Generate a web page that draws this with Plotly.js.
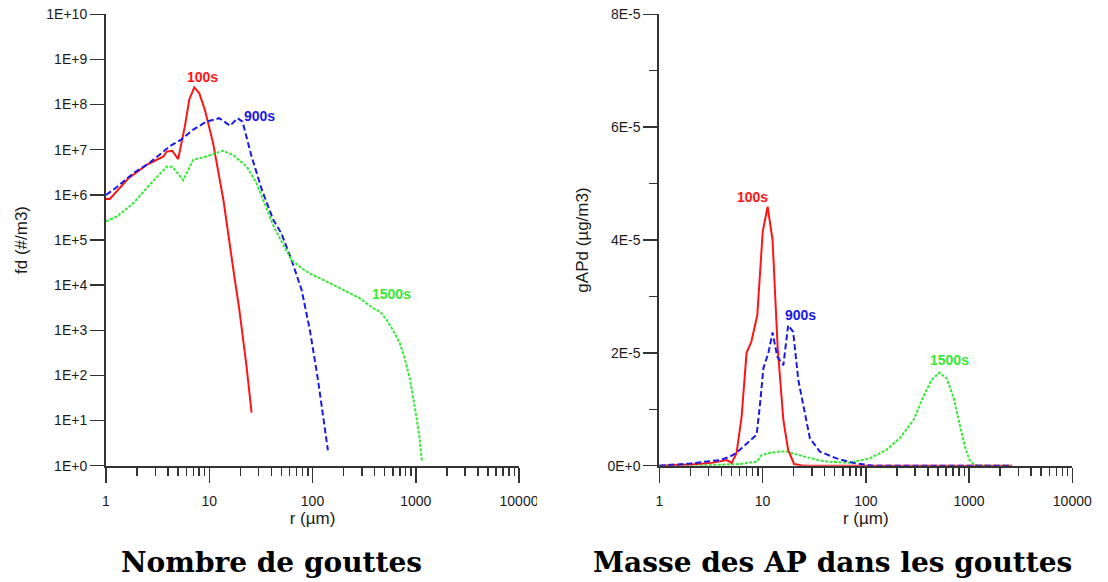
<!DOCTYPE html>
<html>
<head>
<meta charset="utf-8">
<script src="https://cdn.plot.ly/plotly-3.0.1.min.js"></script>
<style>
  html, body { margin: 0; padding: 0; background: #fff; }
  #chart { width: 1108px; height: 582px; }
</style>
</head>
<body>
<div id="chart"></div>
<script>
// ---- Droplet number distribution fd(r), #/m3 ----
const r100 = [1.0, 1.09, 1.64, 2.48, 3.6, 3.87, 4.38, 5.0, 5.83, 6.41, 7.16, 8.0, 9.08, 10.9, 13.7, 15.5, 17.7, 19.4, 23.0, 25.7];
const fd100 = [8.1e5, 8.1e5, 2.3e6, 4.6e6, 7.1e6, 9.1e6, 9.5e6, 6.2e6, 3.5e7, 1.3e8, 2.4e8, 1.8e8, 7.6e7, 1.4e7, 7.8e5, 1.0e5, 1.3e4, 3.3e3, 155, 15];

const r900 = [1.0, 1.18, 1.84, 2.66, 4.16, 5.4, 7.0, 9.4, 12.5, 15.9, 18.8, 21.0, 25.7, 32.3, 41.7, 50, 62.7, 78.5, 94.4, 113, 141];
const fd900 = [1.0e6, 1.3e6, 3.0e6, 5.2e6, 1.2e7, 1.7e7, 2.8e7, 4.2e7, 5.0e7, 3.4e7, 5.0e7, 4.2e7, 7.1e6, 1.3e6, 2.8e5, 1.4e5, 3.6e4, 7.8e3, 1.0e3, 80, 2.2];

const r1500 = [1.0, 1.27, 1.84, 2.66, 3.87, 4.4, 5.6, 7.0, 9.4, 13.5, 17.1, 23.1, 28.7, 34.5, 41.7, 50.3, 62.7, 78, 94.4, 137, 198, 288, 386, 450, 522, 603, 703, 790, 880, 942, 1015, 1085, 1150];
const fd1500 = [2.6e5, 3.3e5, 6.5e5, 1.7e6, 4.2e6, 4.2e6, 2.1e6, 6.0e6, 7.1e6, 9.5e6, 7.6e6, 4.2e6, 1.8e6, 6.5e5, 2.1e5, 9.1e4, 3.6e4, 2.4e4, 1.8e4, 1.2e4, 7.8e3, 5.1e3, 3.1e3, 2.6e3, 1.7e3, 1.0e3, 510, 220, 80, 34, 12, 4.4, 1.2];

// ---- Aerosol particle mass in droplets gAPd(r), µg/m3 ----
const rm100 = [1.0, 2.0, 3.2, 4.49, 5.02, 5.6, 6.27, 7.0, 7.8, 8.9, 10.04, 11.2, 12.5, 14.0, 15.9, 17.7, 20.2, 25, 100, 1000, 2600];
const gm100 = [0, 2e-7, 5e-7, 1.0e-6, 5e-7, 2.2e-6, 8.7e-6, 2.0e-5, 2.2e-5, 2.67e-5, 4.15e-5, 4.59e-5, 4.0e-5, 2.1e-5, 8.1e-6, 2.8e-6, 3e-7, 0, 0, 0, 0];

const rm900 = [1.0, 2.0, 3.86, 4.83, 5.6, 7.0, 8.77, 9.4, 10.2, 11.4, 12.5, 13.9, 15.9, 17.7, 19.8, 22.2, 25.7, 28.7, 35.9, 52, 75, 117, 1000, 2600];
const gm900 = [0, 4e-7, 1.0e-6, 1.6e-6, 2.3e-6, 3.9e-6, 5.5e-6, 1.05e-5, 1.73e-5, 2.0e-5, 2.36e-5, 1.93e-5, 1.78e-5, 2.49e-5, 2.37e-5, 1.52e-5, 9.3e-6, 4.9e-6, 2.5e-6, 1.3e-6, 5e-7, 0, 0, 0];

const rm1500 = [1.0, 3.0, 6.0, 8.77, 9.8, 12, 14.7, 17.1, 21.3, 28, 36, 45, 70, 109, 158, 214, 290, 360, 434, 515, 605, 705, 790, 910, 1010, 1130, 1400, 2600];
const gm1500 = [0, 1e-7, 3e-7, 7e-7, 1.9e-6, 2.3e-6, 2.5e-6, 2.5e-6, 2.0e-6, 1.4e-6, 9e-7, 7e-7, 5.3e-7, 1.3e-6, 2.8e-6, 4.9e-6, 8.1e-6, 1.22e-5, 1.52e-5, 1.65e-5, 1.55e-5, 1.22e-5, 8.1e-6, 3.4e-6, 1.0e-6, 1e-7, 0, 0];

// ---- Tick labels ----
const rTickVals = [1, 10, 100, 1000, 10000];
const rTickText = ['1', '10', '100', '1000', '10000'];
const fdTickVals = [1, 10, 100, 1e3, 1e4, 1e5, 1e6, 1e7, 1e8, 1e9, 1e10];
const fdTickText = ['1E+0', '1E+1', '1E+2', '1E+3', '1E+4', '1E+5', '1E+6', '1E+7', '1E+8', '1E+9', '1E+10'];
const gTickVals = [0, 2e-5, 4e-5, 6e-5, 8e-5];
const gTickText = ['0E+0', '2E-5', '4E-5', '6E-5', '8E-5'];

// ---- Series names and captions ----
const seriesNames = ['100s', '900s', '1500s'];
const captions = ['Nombre de gouttes', 'Masse des AP dans les gouttes'];

const RED = '#ff1414';
const BLUE = '#1a1ae6';
const GREEN = '#33ea33';
const SANS = 'Liberation Sans, Arial, sans-serif';
const AXIS = '#333333';
const TEXT = '#1a1a1a';

const lineRed = { color: RED, width: 2 };
const lineBlue = { color: BLUE, width: 2, dash: '6px,3px' };
const lineGreen = { color: GREEN, width: 2, dash: '3px,1.5px' };

const traces = [
  { x: r100, y: fd100, xaxis: 'x', yaxis: 'y', mode: 'lines', line: lineRed, name: seriesNames[0] },
  { x: r900, y: fd900, xaxis: 'x', yaxis: 'y', mode: 'lines', line: lineBlue, name: seriesNames[1] },
  { x: r1500, y: fd1500, xaxis: 'x', yaxis: 'y', mode: 'lines', line: lineGreen, name: seriesNames[2] },
  { x: rm1500, y: gm1500, xaxis: 'x2', yaxis: 'y2', mode: 'lines', line: lineGreen, name: seriesNames[2] },
  { x: rm100, y: gm100, xaxis: 'x2', yaxis: 'y2', mode: 'lines', line: lineRed, name: seriesNames[0] },
  { x: rm900, y: gm900, xaxis: 'x2', yaxis: 'y2', mode: 'lines', line: lineBlue, name: seriesNames[1] }
];

const W = 1108, H = 582;
const px = v => v / W;
const py = v => 1 - v / H;
const yDomain = [py(465.7), py(14.3)];

function rAxis(domain, anchor) {
  return {
    type: 'log', domain: domain, anchor: anchor, range: [0, 4],
    tickmode: 'array', tickvals: rTickVals, ticktext: rTickText,
    ticks: 'outside', ticklen: 15, tickwidth: 1.5, tickcolor: AXIS,
    ticklabelstandoff: 6,
    minor: { ticks: 'outside', ticklen: 8, tickwidth: 1.5, tickcolor: AXIS, dtick: 'D1', showgrid: false },
    showline: true, linecolor: AXIS, linewidth: 2,
    showgrid: false, zeroline: false, automargin: false,
    tickfont: { family: SANS, size: 14, color: TEXT },
    title: { text: 'r (µm)', font: { family: SANS, size: 17, color: TEXT }, standoff: 5 }
  };
}

function yTitle(text) {
  return { text: text, font: { family: SANS, size: 17, color: TEXT }, standoff: 14 };
}

const layout = {
  width: W, height: H,
  margin: { l: 0, r: 0, t: 0, b: 0 },
  paper_bgcolor: '#ffffff', plot_bgcolor: '#ffffff',
  showlegend: false,
  xaxis: rAxis([px(106), px(519)], 'y'),
  xaxis2: rAxis([px(659.3), px(1072.3)], 'y2'),
  yaxis: {
    type: 'log', domain: yDomain, anchor: 'x', range: [0, 10],
    tickmode: 'array', tickvals: fdTickVals, ticktext: fdTickText,
    ticks: 'outside', ticklen: 14, tickwidth: 1.5, tickcolor: AXIS,
    showline: true, linecolor: AXIS, linewidth: 2,
    showgrid: false, zeroline: false, automargin: false,
    tickfont: { family: SANS, size: 14, color: TEXT },
    title: yTitle('fd (#/m3)')
  },
  yaxis2: {
    type: 'linear', domain: yDomain, anchor: 'x2', range: [0, 8e-5],
    tickmode: 'array', tickvals: gTickVals, ticktext: gTickText,
    ticks: 'outside', ticklen: 14, tickwidth: 1.5, tickcolor: AXIS,
    minor: { ticks: 'outside', ticklen: 8, tickwidth: 1.5, tickcolor: AXIS, tickmode: 'linear', tick0: 0, dtick: 1e-5, showgrid: false },
    showline: true, linecolor: AXIS, linewidth: 2,
    showgrid: false, zeroline: false, automargin: false,
    tickfont: { family: SANS, size: 14, color: TEXT },
    title: yTitle('gAPd (µg/m3)')
  },
  annotations: [
    // curve labels, number distribution (log axes take log10 positions)
    { xref: 'x', yref: 'y', x: Math.log10(8.69), y: 8.61, text: '<b>' + seriesNames[0] + '</b>', showarrow: false, font: { family: SANS, size: 14, color: RED } },
    { xref: 'x', yref: 'y', x: Math.log10(31.0), y: 7.747, text: '<b>' + seriesNames[1] + '</b>', showarrow: false, font: { family: SANS, size: 14, color: BLUE } },
    { xref: 'x', yref: 'y', x: Math.log10(587), y: 3.80, text: '<b>' + seriesNames[2] + '</b>', showarrow: false, font: { family: SANS, size: 14, color: GREEN } },
    // curve labels, mass distribution
    { xref: 'x2', yref: 'y2', x: Math.log10(8.07), y: 4.76e-5, text: '<b>' + seriesNames[0] + '</b>', showarrow: false, font: { family: SANS, size: 14, color: RED } },
    { xref: 'x2', yref: 'y2', x: Math.log10(23.4), y: 2.67e-5, text: '<b>' + seriesNames[1] + '</b>', showarrow: false, font: { family: SANS, size: 14, color: BLUE } },
    { xref: 'x2', yref: 'y2', x: Math.log10(652), y: 1.87e-5, text: '<b>' + seriesNames[2] + '</b>', showarrow: false, font: { family: SANS, size: 14, color: GREEN } },
    // panel captions
    { xref: 'paper', yref: 'paper', x: px(271), y: py(562), xanchor: 'center', yanchor: 'middle', text: '<b>' + captions[0] + '</b>', showarrow: false, font: { family: 'DejaVu Serif, serif', size: 28, color: '#000' } },
    { xref: 'paper', yref: 'paper', x: px(832), y: py(562), xanchor: 'center', yanchor: 'middle', text: '<b>' + captions[1] + '</b>', showarrow: false, font: { family: 'DejaVu Serif, serif', size: 28, color: '#000' } }
  ],
  shapes: [
    // the left panel's frame ends here, trimming its last tick label
    { type: 'rect', xref: 'paper', yref: 'paper', x0: px(537), x1: px(552), y0: py(512), y1: py(488), fillcolor: '#ffffff', line: { width: 0 }, layer: 'above' }
  ]
};

Plotly.newPlot('chart', traces, layout, { staticPlot: true, displayModeBar: false });
</script>
</body>
</html>
